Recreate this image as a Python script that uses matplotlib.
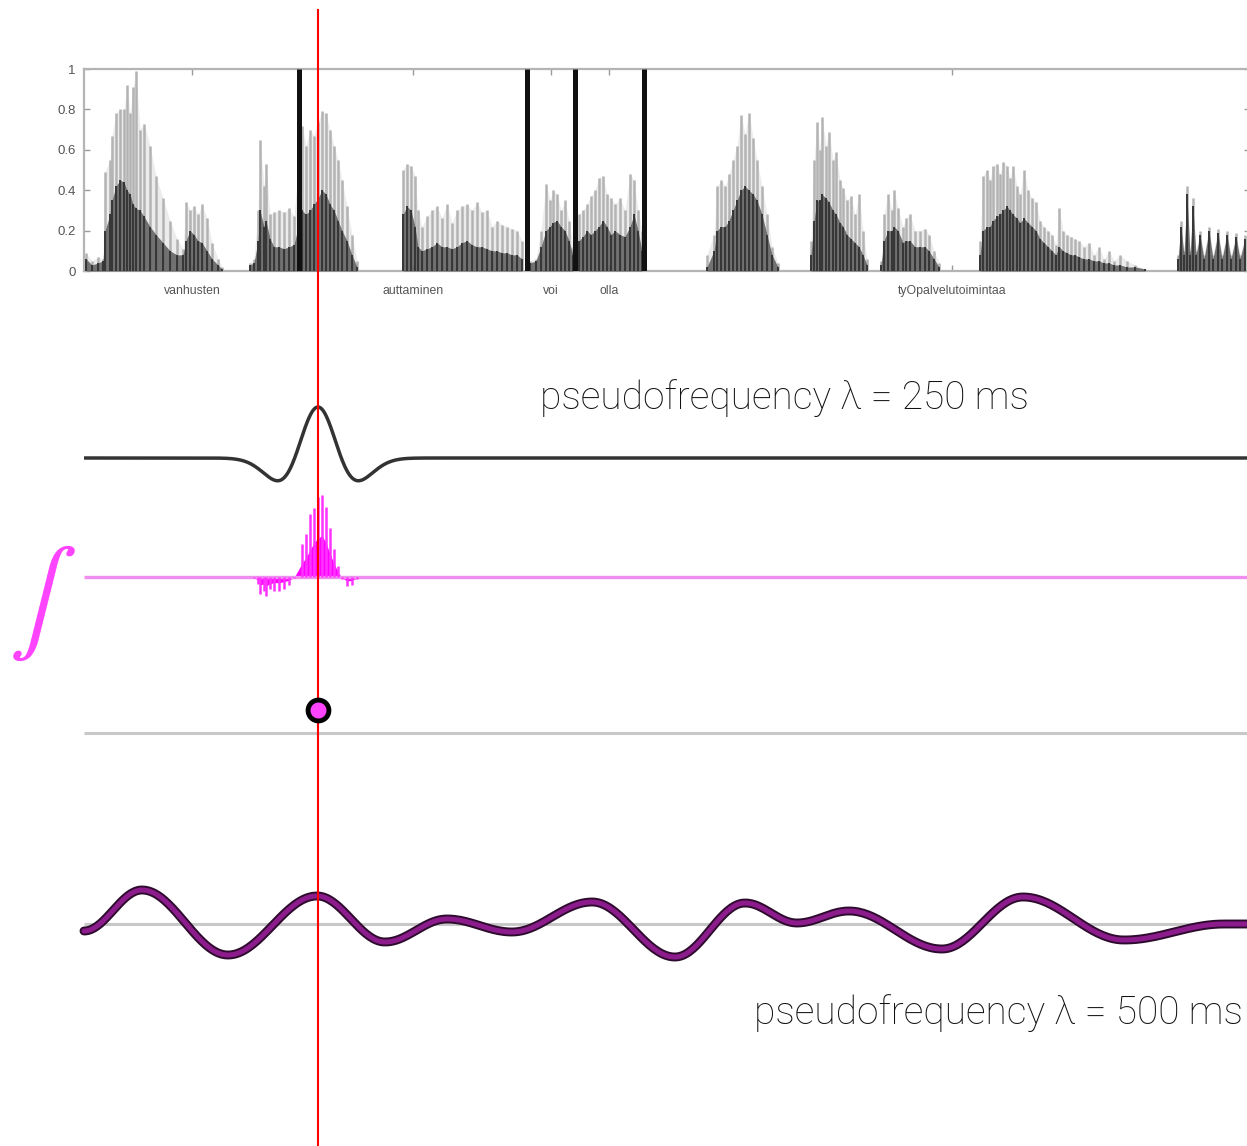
import numpy as np
import matplotlib
matplotlib.use("Agg")
import matplotlib.pyplot as plt

# ---- amplitude envelope of the utterance (time in ms, amplitude 0..1) ----
# each burst: spike times, light (peak) heights, dark (body) heights
burst_t = [
    [6, 24, 42, 57, 63, 78, 84, 96, 108, 120, 129, 138, 147, 156, 168, 180, 198, 216, 237, 258, 279, 297,
     306, 318, 330, 342, 354, 369, 384, 402, 414],
    [498, 510, 522, 528, 540, 546, 558, 570, 585, 600, 615, 630, 654, 666, 678, 690, 702, 714, 726, 738,
     750, 762, 774, 789, 804, 819],
    [957, 969, 981, 993, 1002, 1014, 1029, 1044, 1059, 1074, 1089, 1104, 1119, 1134, 1149, 1164, 1179,
     1194, 1209, 1224, 1239, 1254, 1269, 1284, 1299, 1314],
    [1338, 1356, 1371, 1386, 1398, 1407, 1419, 1431, 1443, 1455, 1467],
    [1485, 1497, 1509, 1521, 1533, 1545, 1557, 1569, 1581, 1593, 1608, 1623, 1638, 1650, 1662, 1674],
    [1869, 1890, 1899, 1911, 1923, 1935, 1947, 1959, 1971, 1983, 1995, 2007, 2019, 2034, 2049, 2064, 2082],
    [2181, 2190, 2199, 2208, 2214, 2226, 2235, 2247, 2256, 2268, 2277, 2289, 2301, 2313, 2325, 2337, 2349],
    [2391, 2400, 2412, 2424, 2430, 2442, 2457, 2466, 2478, 2493, 2508, 2523, 2535, 2550, 2565],
    [2688, 2697, 2709, 2718, 2727, 2739, 2748, 2757, 2769, 2778, 2787, 2799, 2808, 2820, 2832, 2844, 2856,
     2868, 2880, 2892, 2904, 2916, 2925, 2937, 2949, 2961, 2973, 2985, 3000, 3015, 3030, 3045, 3060, 3075,
     3090, 3108, 3129, 3153, 3183],
    [3282, 3291, 3300, 3309, 3318, 3327, 3336, 3348, 3360, 3375, 3387, 3402, 3414, 3429, 3441, 3456, 3468,
     3483],
]
burst_hi = [
    [0.09, 0.05, 0.07, 0.06, 0.49, 0.55, 0.67, 0.78, 0.80, 0.80, 0.92, 0.78, 0.91, 0.99, 0.70, 0.73, 0.62,
     0.47, 0.36, 0.25, 0.16, 0.11, 0.34, 0.30, 0.32, 0.28, 0.33, 0.26, 0.14, 0.06, 0.02],
    [0.04, 0.06, 0.30, 0.65, 0.42, 0.53, 0.28, 0.29, 0.30, 0.29, 0.31, 0.27, 0.72, 0.62, 0.70, 0.67, 0.74,
     0.79, 0.78, 0.70, 0.62, 0.55, 0.45, 0.32, 0.18, 0.05],
    [0.50, 0.53, 0.52, 0.47, 0.30, 0.22, 0.27, 0.30, 0.32, 0.26, 0.33, 0.24, 0.30, 0.32, 0.33, 0.30, 0.34,
     0.29, 0.30, 0.22, 0.25, 0.23, 0.22, 0.21, 0.20, 0.15],
    [0.05, 0.06, 0.20, 0.43, 0.35, 0.40, 0.38, 0.30, 0.35, 0.25, 0.12],
    [0.28, 0.30, 0.33, 0.37, 0.40, 0.46, 0.47, 0.38, 0.36, 0.33, 0.36, 0.30, 0.48, 0.45, 0.30, 0.20],
    [0.08, 0.18, 0.42, 0.45, 0.42, 0.48, 0.55, 0.62, 0.77, 0.68, 0.78, 0.66, 0.55, 0.42, 0.28, 0.12, 0.04],
    [0.15, 0.55, 0.74, 0.60, 0.76, 0.62, 0.69, 0.55, 0.59, 0.45, 0.41, 0.35, 0.37, 0.28, 0.38, 0.20, 0.06],
    [0.05, 0.28, 0.38, 0.30, 0.40, 0.31, 0.22, 0.26, 0.28, 0.20, 0.20, 0.21, 0.18, 0.10, 0.04],
    [0.15, 0.47, 0.50, 0.45, 0.52, 0.53, 0.48, 0.54, 0.52, 0.46, 0.52, 0.42, 0.38, 0.50, 0.40, 0.36, 0.34,
     0.25, 0.22, 0.20, 0.18, 0.13, 0.31, 0.20, 0.18, 0.17, 0.16, 0.15, 0.12, 0.14, 0.08, 0.12, 0.06, 0.10,
     0.05, 0.08, 0.05, 0.03, 0.01],
    [0.08, 0.25, 0.10, 0.42, 0.10, 0.36, 0.10, 0.20, 0.08, 0.22, 0.08, 0.21, 0.08, 0.20, 0.08, 0.19, 0.08,
     0.18],
]
burst_lo = [
    [0.06, 0.03, 0.04, 0.05, 0.20, 0.28, 0.35, 0.42, 0.45, 0.44, 0.40, 0.38, 0.33, 0.31, 0.30, 0.27, 0.22,
     0.18, 0.14, 0.10, 0.08, 0.08, 0.15, 0.20, 0.18, 0.15, 0.14, 0.10, 0.06, 0.03, 0.01],
    [0.03, 0.04, 0.15, 0.30, 0.22, 0.25, 0.16, 0.12, 0.12, 0.11, 0.12, 0.13, 0.30, 0.28, 0.30, 0.33, 0.36,
     0.40, 0.38, 0.33, 0.30, 0.25, 0.20, 0.15, 0.08, 0.02],
    [0.28, 0.32, 0.30, 0.22, 0.12, 0.10, 0.11, 0.12, 0.14, 0.12, 0.12, 0.11, 0.12, 0.14, 0.15, 0.13, 0.12,
     0.12, 0.11, 0.10, 0.10, 0.09, 0.09, 0.08, 0.08, 0.06],
    [0.04, 0.05, 0.12, 0.20, 0.22, 0.24, 0.25, 0.22, 0.20, 0.15, 0.08],
    [0.15, 0.17, 0.20, 0.18, 0.20, 0.22, 0.25, 0.22, 0.18, 0.20, 0.18, 0.17, 0.22, 0.28, 0.20, 0.10],
    [0.02, 0.10, 0.20, 0.22, 0.22, 0.25, 0.30, 0.35, 0.40, 0.42, 0.40, 0.38, 0.35, 0.28, 0.18, 0.08, 0.02],
    [0.08, 0.25, 0.35, 0.35, 0.38, 0.36, 0.34, 0.30, 0.28, 0.24, 0.22, 0.18, 0.16, 0.14, 0.12, 0.08, 0.03],
    [0.03, 0.15, 0.20, 0.20, 0.22, 0.20, 0.14, 0.15, 0.15, 0.12, 0.12, 0.12, 0.10, 0.06, 0.02],
    [0.08, 0.20, 0.22, 0.22, 0.25, 0.27, 0.28, 0.30, 0.32, 0.30, 0.28, 0.26, 0.24, 0.26, 0.24, 0.22, 0.20,
     0.16, 0.14, 0.12, 0.10, 0.08, 0.12, 0.10, 0.09, 0.08, 0.08, 0.07, 0.06, 0.06, 0.05, 0.05, 0.04, 0.04,
     0.03, 0.03, 0.02, 0.02, 0.01],
    [0.06, 0.22, 0.08, 0.38, 0.08, 0.32, 0.08, 0.18, 0.06, 0.20, 0.06, 0.19, 0.06, 0.18, 0.06, 0.17, 0.06,
     0.16],
]

words = ["vanhusten", "auttaminen", "voi", "olla", "tyOpalvelutoimintaa"]
word_centers = [324, 987, 1401, 1575, 2604]
boundaries = [645, 1329, 1473, 1680]
y_ticks = [0, 0.2, 0.4, 0.6, 0.8, 1]
y_ticklabels = ["0", "0.2", "0.4", "0.6", "0.8", "1"]

# analysis time and wavelet settings
t_focus = 702
lambda_small = 250
lambda_large = 500
mexh_ratio = 0.28          # Mexican-hat width relative to pseudo-period

# wavelet response at lambda = 500 ms: turning points (ms, amplitude)
resp_t = [0, 174, 432, 699, 903, 1089, 1284, 1524, 1773, 1983, 2139, 2295, 2574, 2817, 3120, 3420, 3489]
resp_v = [-7, 34, -31, 28, -18, 5, -8, 22, -33, 21, 1, 13, -25, 27, -16, 0, 0]
dot_value = 23             # integral of the product at t_focus


def mexh(t, centre, lam):
    s = mexh_ratio * lam
    u = (np.asarray(t, dtype=float) - centre) / s
    return (1 - u ** 2) * np.exp(-u ** 2 / 2)


def smooth_path(ts, vs, n=40):
    xs, ys = [], []
    u = np.linspace(0, 1, n)
    w = (1 - np.cos(np.pi * u)) / 2
    for i in range(len(ts) - 1):
        xs.append(ts[i] + (ts[i + 1] - ts[i]) * u)
        ys.append(vs[i] + (vs[i + 1] - vs[i]) * w)
    return np.concatenate(xs), np.concatenate(ys)


W, H = 1247, 1146
fig = plt.figure(figsize=(W / 100, H / 100), dpi=100)

# ---- top panel: envelope plot ----
ax = fig.add_axes([84 / W, (H - 271) / H, (1250 - 84) / W, 202 / H])
ax.set_xlim(0, 1166 * 3)
ax.set_ylim(0, 1)
for t, hi, lo in zip(burst_t, burst_hi, burst_lo):
    ax.fill_between(t, 0, hi, color="#ececec", lw=0, zorder=1)
    ax.vlines(t, 0, hi, color="#b3b3b3", lw=1.8, zorder=2)
    ax.fill_between(t, 0, lo, color="#5c5c5c", alpha=0.85, lw=0, zorder=3)
    ax.vlines(t, 0, lo, color="#363636", lw=1.4, zorder=4)
ax.vlines(boundaries, 0, 1, color="#111111", lw=3.6, zorder=5)
for sp in ax.spines.values():
    sp.set_color("#b4b4b4")
    sp.set_linewidth(1.6)
ax.set_yticks(y_ticks)
ax.set_yticklabels(y_ticklabels)
ax.set_xticks(word_centers)
ax.set_xticklabels(words)
ax.tick_params(axis="both", direction="in", colors="#9a9a9a", length=4, width=1,
               top=True, right=True, labelcolor="#555555")
ax.tick_params(axis="y", labelsize=9.5, pad=6)
ax.tick_params(axis="x", labelsize=8.8, pad=10)
for lab in ax.get_xticklabels() + ax.get_yticklabels():
    lab.set_family("Liberation Sans")

# ---- overlay for the wavelet tracks (x in ms, y in layout pixels) ----
ov = fig.add_axes([0, 0, 1, 1], zorder=3)
ov.set_facecolor("none")
ov.set_xlim(-84 * 3, (W - 84) * 3)
ov.set_ylim(H, 0)
ov.axis("off")

t_line = np.linspace(0, (W - 84) * 3, 2000)

# Mexican-hat wavelet, lambda = 250 ms
ov.plot(t_line, 458 - 51 * mexh(t_line, t_focus, lambda_small), color="#333333", lw=2.5,
        solid_capstyle="butt")

# envelope x wavelet
ov.plot([0, (W - 84) * 3], [577, 577], color="#f08ef0", lw=2.4, solid_capstyle="butt")
for t, hi, lo in zip(burst_t, burst_hi, burst_lo):
    t = np.array(t, dtype=float)
    k = mexh(t, t_focus, lambda_small)
    keep = np.abs(k) > 0.03
    if keep.any():
        ov.vlines(t[keep], 577, 577 - 108 * np.array(hi)[keep] * k[keep], color="#ff33ff", lw=1.8)
        ov.fill_between(t, 577, 577 - 108 * np.array(lo) * k, where=np.abs(k) > 0.03,
                        color="#ff00ff", lw=0)

# integral sign
ov.text(-126, 603, r"$\int$", color="#ff44ff", fontsize=73, ha="center", va="center",
        math_fontfamily="stix")

# integral result
ov.plot([0, (W - 84) * 3], [733, 733], color="#c8c8c8", lw=2.2, solid_capstyle="butt")
ov.plot([t_focus], [733 - dot_value], "o", ms=15, mfc="#ff44ff", mec="black", mew=3.5, zorder=6)

# wavelet response at lambda = 500 ms
ov.plot([0, (W - 84) * 3], [924, 924], color="#c8c8c8", lw=2.2, solid_capstyle="butt")
rx, ry = smooth_path(resp_t, resp_v)
ov.plot(rx, 924 - ry, color="#2e0b2e", lw=6.4, solid_capstyle="round")
ov.plot(rx, 924 - ry, color="#8c1c8c", lw=3.6, solid_capstyle="round")

# labels
ov.text((540 - 84) * 3, 398, f"pseudofrequency \u03bb = {lambda_small} ms", fontsize=28,
        family="Roboto", weight="light", color="#111111", ha="left", va="center")
ov.text((1243 - 84) * 3, 1013, f"pseudofrequency \u03bb = {lambda_large} ms", fontsize=28,
        family="Roboto", weight="light", color="#111111", ha="right", va="center")

# analysis instant
ov.plot([t_focus, t_focus], [10, H], color="#ff0000", lw=1.5, zorder=5)

fig.savefig("out.png", dpi=100)
